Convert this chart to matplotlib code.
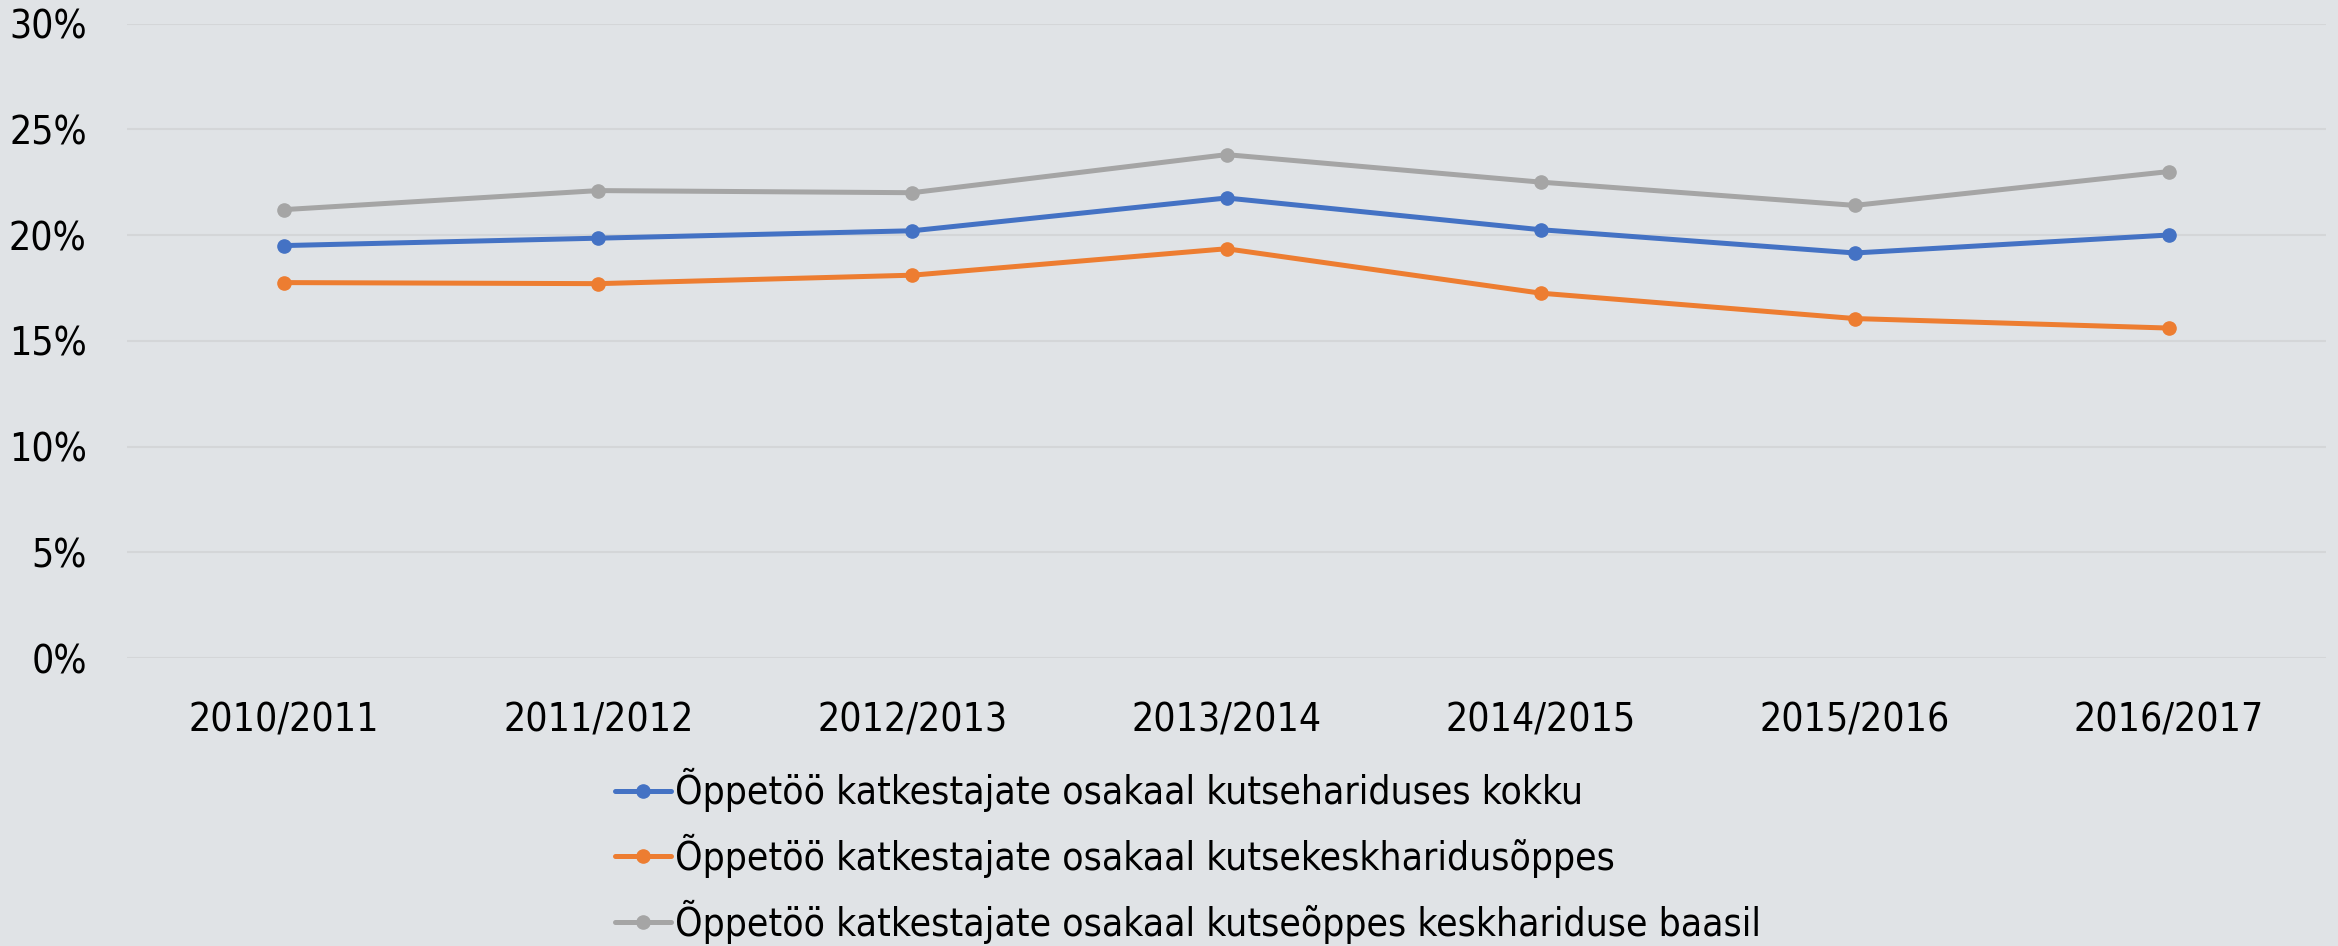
import matplotlib
matplotlib.use("Agg")
import matplotlib.pyplot as plt
from matplotlib.ticker import PercentFormatter

# ---- data ---------------------------------------------------------------- #
years = ["2010/2011", "2011/2012", "2012/2013", "2013/2014",
         "2014/2015", "2015/2016", "2016/2017"]
kokku = [19.5, 19.85, 20.2, 21.75, 20.25, 19.15, 20.0]
kutsekesk = [17.75, 17.7, 18.1, 19.35, 17.25, 16.05, 15.6]
keskbaasil = [21.2, 22.1, 22.0, 23.8, 22.5, 21.4, 23.0]

labels = ["Õppetöö katkestajate osakaal kutsehariduses kokku",
          "Õppetöö katkestajate osakaal kutsekeskharidusõppes",
          "Õppetöö katkestajate osakaal kutseõppes keskhariduse baasil"]

BLUE = "#4472C4"
ORANGE = "#ED7D31"
GRAY = "#A5A5A5"
BG = "#E0E3E6"
GRID = "#D4D6D8"

plt.rcParams.update({
    "font.family": ["DejaVu Sans"],
    "font.stretch": "condensed",
    "font.size": 28,
})

W, H = 2338, 946
fig = plt.figure(figsize=(W / 100, H / 100), dpi=100, facecolor=BG)
ax = fig.add_axes([127 / W, 1 - 658 / H, (2326 - 127) / W, (658 - 23.5) / H])
ax.set_facecolor(BG)

x = range(len(years))
for vals, c, lab in zip([kokku, kutsekesk, keskbaasil], [BLUE, ORANGE, GRAY], labels):
    ax.plot(x, vals, color=c, lw=3.6, marker="o", ms=9.5, label=lab,
            solid_capstyle="round", zorder=3)

ax.set_xlim(-0.5, len(years) - 0.5)
ax.set_ylim(0, 30)
ax.set_yticks(range(0, 31, 5))
ax.yaxis.set_major_formatter(PercentFormatter(decimals=0))
ax.set_xticks(list(x))
ax.set_xticklabels(years)
ax.grid(axis="y", color=GRID, lw=1.5, zorder=0)
for s in ax.spines.values():
    s.set_visible(False)
ax.tick_params(length=0, colors="black", labelsize=28)
ax.tick_params(axis="y", pad=29)
ax.tick_params(axis="x", pad=31)

handles, labs = ax.get_legend_handles_labels()
fig.legend(handles, labs, loc="center left", bbox_to_anchor=(615 / W, 1 - 856 / H),
           frameon=False, handlelength=1.44, handletextpad=0.1, labelspacing=0.56,
           borderpad=0, borderaxespad=0, fontsize=28)

fig.savefig("out.png", dpi=100, facecolor=BG)
